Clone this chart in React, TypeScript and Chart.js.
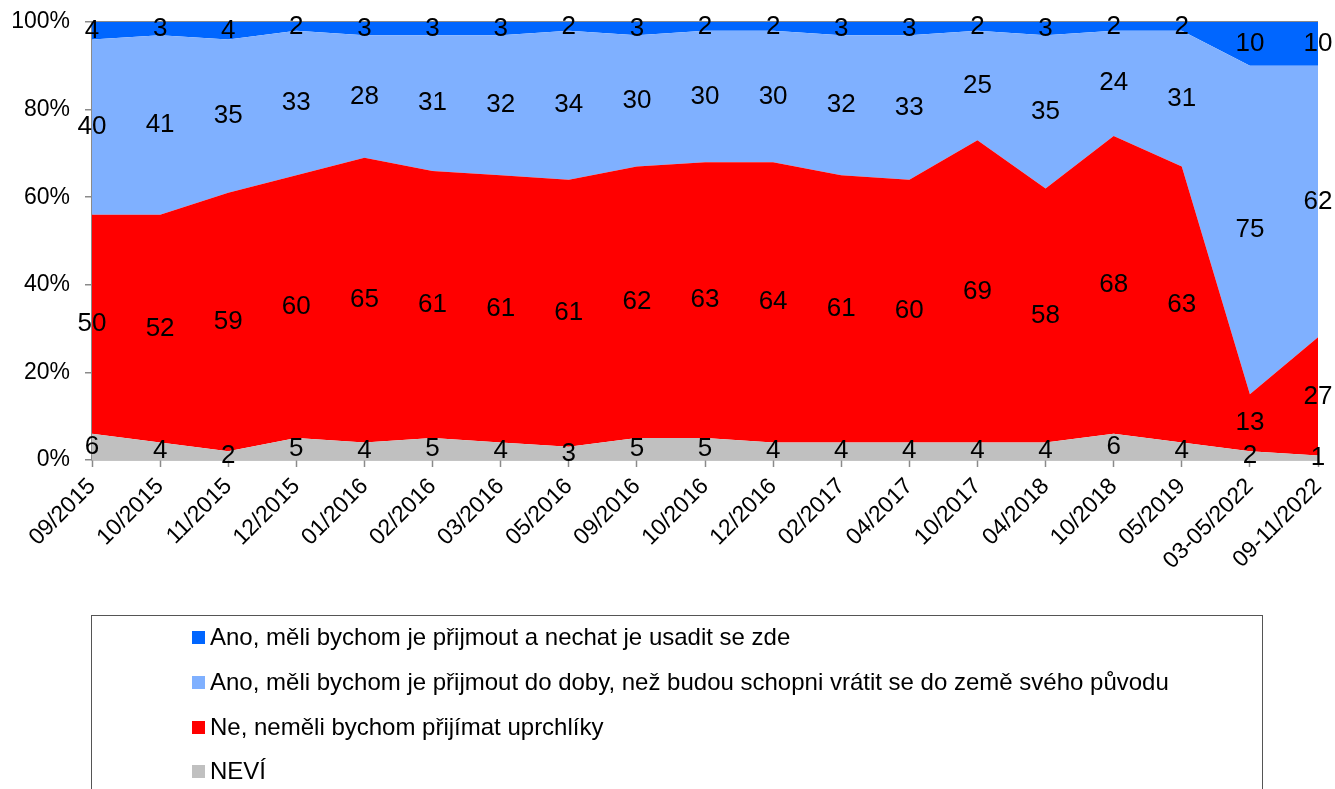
import React, { useEffect, useRef } from "react";
import { Chart, registerables } from "chart.js";

Chart.register(...registerables);

const categories = [
  "09/2015", "10/2015", "11/2015", "12/2015", "01/2016", "02/2016", "03/2016",
  "05/2016", "09/2016", "10/2016", "12/2016", "02/2017", "04/2017", "10/2017",
  "04/2018", "10/2018", "05/2019", "03-05/2022", "09-11/2022",
];
const neviValues = [6, 4, 2, 5, 4, 5, 4, 3, 5, 5, 4, 4, 4, 4, 4, 6, 4, 2, 1];
const neValues = [50, 52, 59, 60, 65, 61, 61, 61, 62, 63, 64, 61, 60, 69, 58, 68, 63, 13, 27];
const anoDoDobyValues = [40, 41, 35, 33, 28, 31, 32, 34, 30, 30, 30, 32, 33, 25, 35, 24, 31, 75, 62];
const anoUsaditValues = [4, 3, 4, 2, 3, 3, 3, 2, 3, 2, 2, 3, 3, 2, 3, 2, 2, 10, 10];
const yTickValues = [0, 20, 40, 60, 80, 100];

const seriesNames = [
  "NEVÍ",
  "Ne, neměli bychom přijímat uprchlíky",
  "Ano, měli bychom je přijmout do doby, než budou schopni vrátit se do země svého původu",
  "Ano, měli bychom je přijmout a nechat je usadit se zde",
];
const seriesColors = ["#C0C0C0", "#FF0000", "#7FB0FF", "#0066FF"];
const seriesValues = [neviValues, neValues, anoDoDobyValues, anoUsaditValues];

const FONT = "'Liberation Sans', Arial, sans-serif";
const AXIS_COLOR = "#8a8a8a";

const labelPlugin = {
  id: "areaLabels",
  afterDatasetsDraw(chart: any) {
    const { ctx, scales } = chart;
    const x = scales.x;
    const y = scales.y;
    ctx.save();
    ctx.font = `26px ${FONT}`;
    ctx.fillStyle = "#000";
    ctx.textAlign = "center";
    ctx.textBaseline = "middle";
    const n = chart.data.labels.length;
    for (let j = 0; j < n; j++) {
      let base = 0;
      chart.data.datasets.forEach((ds: any) => {
        const v = ds.data[j];
        const px = x.getPixelForValue(j);
        const py = y.getPixelForValue(base + v / 2);
        ctx.fillText(String(v), px, py);
        base += v;
      });
    }
    ctx.restore();
  },
};

export default function App() {
  const canvasRef = useRef<HTMLCanvasElement | null>(null);

  useEffect(() => {
    if (!canvasRef.current) return;
    const chart = new Chart(canvasRef.current, {
      type: "line",
      data: {
        labels: categories,
        datasets: seriesValues.map((vals, i) => ({
          label: seriesNames[i],
          data: vals,
          backgroundColor: seriesColors[i],
          borderColor: seriesColors[i],
          borderWidth: 0,
          pointRadius: 0,
          tension: 0,
          fill: i === 0 ? "origin" : "-1",
        })),
      },
      options: {
        animation: false,
        responsive: true,
        maintainAspectRatio: false,
        layout: { padding: { left: 0, top: 22, right: 17, bottom: 189 } },
        plugins: {
          legend: { display: false },
          tooltip: { enabled: false },
        },
        scales: {
          x: {
            offset: false,
            grid: {
              drawOnChartArea: false,
              tickLength: 7,
              tickColor: AXIS_COLOR,
              tickWidth: 1.5,
            },
            border: { color: AXIS_COLOR, width: 1.5 },
            ticks: {
              minRotation: 45,
              maxRotation: 45,
              autoSkip: false,
              padding: 6,
              color: "#000",
              font: { family: FONT, size: 23 },
            },
            afterFit: (scale: any) => {
              scale.height = 140;
              scale.paddingLeft = 0;
              scale.paddingRight = 0;
            },
          },
          y: {
            stacked: true,
            min: 0,
            max: 100,
            afterBuildTicks: (scale: any) => {
              scale.ticks = yTickValues.map((v) => ({ value: v }));
            },
            grid: {
              drawOnChartArea: true,
              color: (ctx: any) =>
                ctx.tick && ctx.tick.value === 100 ? AXIS_COLOR : "rgba(0,0,0,0)",
              lineWidth: 1.5,
              tickLength: 7,
              tickColor: AXIS_COLOR,
              tickWidth: 1.5,
            },
            border: { color: AXIS_COLOR, width: 1.5 },
            ticks: {
              padding: 15,
              color: "#000",
              font: { family: FONT, size: 23 },
              callback: (v: any) => `${v}%`,
            },
            afterFit: (scale: any) => {
              scale.width = 92;
              scale.paddingTop = 0;
              scale.paddingBottom = 0;
            },
          },
        },
      },
      plugins: [labelPlugin],
    });
    return () => chart.destroy();
  }, []);

  const legendOrder = [3, 2, 1, 0];
  const rowTops = [6, 51, 96, 140];

  return (
    <div
      style={{
        position: "absolute",
        left: 0,
        top: 0,
        width: 1335,
        height: 789,
        overflow: "hidden",
        background: "#fff",
      }}
    >
      <canvas ref={canvasRef} style={{ position: "absolute", left: 0, top: 0 }} />
      <div
        style={{
          position: "absolute",
          left: 91,
          top: 615,
          width: 1172,
          height: 220,
          border: "1px solid #555",
          boxSizing: "border-box",
          fontFamily: FONT,
          fontSize: 24,
          color: "#000",
        }}
      >
        {legendOrder.map((si, k) => (
          <div
            key={si}
            style={{
              position: "absolute",
              left: 100,
              top: rowTops[k],
              height: 30,
              display: "flex",
              alignItems: "center",
              whiteSpace: "nowrap",
            }}
          >
            <span
              style={{
                display: "inline-block",
                width: 13,
                height: 13,
                background: seriesColors[si],
                marginRight: 5,
              }}
            />
            <span>{seriesNames[si]}</span>
          </div>
        ))}
      </div>
    </div>
  );
}
